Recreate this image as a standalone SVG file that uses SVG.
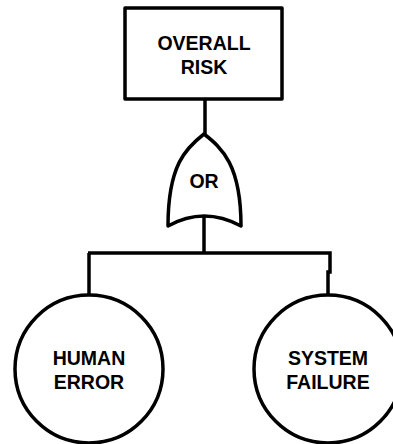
<svg xmlns="http://www.w3.org/2000/svg" width="393" height="444" viewBox="0 0 393 444">
<style>
.s{fill:#fff;stroke:#000;stroke-width:3.5;stroke-linejoin:round}
.c{fill:none;stroke:#000;stroke-width:3.5}
.t{font-family:"Liberation Sans",Arial,sans-serif;font-weight:bold;font-size:19.5px;text-anchor:middle;fill:#000}
</style>
<rect width="393" height="444" fill="#fff"/>
<g id="connectors">
<path class="c" d="M205,99 V134"/>
<path class="c" d="M204,214 V253"/>
<path class="c" d="M88,253 H330 V272 H328 V295"/>
<path class="c" d="M89,253 V295"/>
</g>
<g id="overall-risk">
<rect class="s" x="125" y="8" width="157" height="91"/>
<text class="t" x="204" y="50">OVERALL</text>
<text class="t" x="204" y="74">RISK</text>
</g>
<g id="or-gate">
<path class="s" d="M204,134 C186,148 168,165 168,226 Q204,206 241,226 C241,165 222,148 204,134 Z"/>
<text class="t" x="204" y="188">OR</text>
</g>
<g id="human-error">
<circle class="s" cx="89" cy="369" r="74"/>
<text class="t" x="89" y="365">HUMAN</text>
<text class="t" x="89" y="389">ERROR</text>
</g>
<g id="system-failure">
<circle class="s" cx="328" cy="369" r="74"/>
<text class="t" x="328" y="365">SYSTEM</text>
<text class="t" x="328" y="389">FAILURE</text>
</g>
</svg>
